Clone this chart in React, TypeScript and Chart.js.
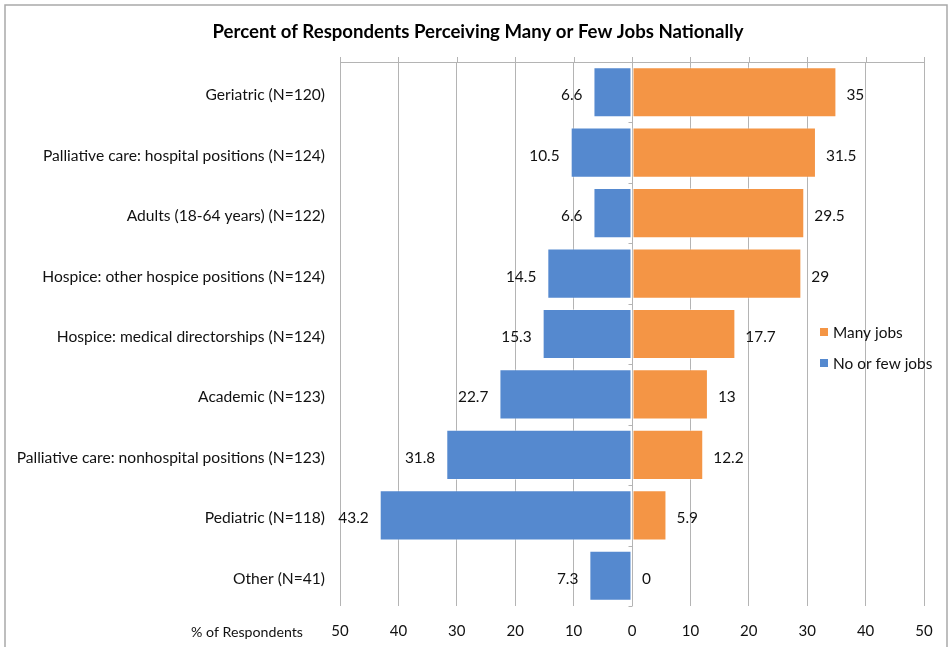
import React, { useEffect, useRef } from "react";
import { Chart, registerables } from "chart.js";

Chart.register(...registerables);

// Job-market perception by career area
const categories = [
  "Geriatric (N=120)",
  "Palliative care: hospital positions (N=124)",
  "Adults (18-64 years) (N=122)",
  "Hospice: other hospice positions (N=124)",
  "Hospice: medical directorships (N=124)",
  "Academic (N=123)",
  "Palliative care: nonhospital positions (N=123)",
  "Pediatric (N=118)",
  "Other (N=41)",
];
const manyJobs = [35, 31.5, 29.5, 29, 17.7, 13, 12.2, 5.9, 0];
const fewJobs = [6.6, 10.5, 6.6, 14.5, 15.3, 22.7, 31.8, 43.2, 7.3];
const axisTicks = [-50, -40, -30, -20, -10, 0, 10, 20, 30, 40, 50];

const TITLE = "Percent of Respondents Perceiving Many or Few Jobs Nationally";
const AXIS_TITLE = "% of Respondents";
const FONT = "Lato, 'Open Sans', sans-serif";
const ORANGE = "#F49545";
const BLUE = "#5589CF";
const GRID = "#b4b4b4";
const TEXT = "#111111";

const decorPlugin = {
  id: "decor",
  beforeDraw(chart: any) {
    const ctx = chart.ctx;
    ctx.save();
    // outer frame
    ctx.strokeStyle = "#a9a9a9";
    ctx.lineWidth = 1.5;
    ctx.beginPath();
    ctx.moveTo(5, 700);
    ctx.lineTo(5, 5);
    ctx.lineTo(947, 5);
    ctx.lineTo(947, 700);
    ctx.stroke();
    // title
    ctx.fillStyle = "#000";
    ctx.font = `bold 18.6px ${FONT}`;
    ctx.textAlign = "center";
    ctx.textBaseline = "middle";
    ctx.fillText(TITLE, 478, 32);
    ctx.restore();
  },
  afterDraw(chart: any) {
    const ctx = chart.ctx;
    const area = chart.chartArea;
    const xs = chart.scales.x;
    ctx.save();
    // top axis line with outward ticks
    ctx.strokeStyle = GRID;
    ctx.lineWidth = 1;
    ctx.beginPath();
    ctx.moveTo(area.left, area.top + 0.5);
    ctx.lineTo(area.right, area.top + 0.5);
    axisTicks.forEach((t) => {
      const px = Math.round(xs.getPixelForValue(t)) + 0.5;
      ctx.moveTo(px, area.top);
      ctx.lineTo(px, area.top - 5);
    });
    // category ticks on the zero line
    const zx = Math.round(xs.getPixelForValue(0)) + 0.5;
    const step = (area.bottom - area.top) / categories.length;
    for (let i = 0; i <= categories.length; i++) {
      const py = Math.round(area.top + i * step) + 0.5;
      ctx.moveTo(zx - 4, py);
      ctx.lineTo(zx, py);
    }
    ctx.stroke();

    // bottom axis caption
    ctx.fillStyle = TEXT;
    ctx.font = `14.2px ${FONT}`;
    ctx.textAlign = "center";
    ctx.textBaseline = "middle";
    ctx.fillText(AXIS_TITLE, 247, 632);

    // legend
    const items = [
      { label: chart.data.datasets[0].label, color: chart.data.datasets[0].backgroundColor },
      { label: chart.data.datasets[1].label, color: chart.data.datasets[1].backgroundColor },
    ];
    ctx.font = `15.4px ${FONT}`;
    ctx.textAlign = "left";
    items.forEach((it, i) => {
      const cy = 332 + i * 31;
      ctx.fillStyle = it.color;
      ctx.fillRect(820, cy - 4, 8, 8);
      ctx.fillStyle = TEXT;
      ctx.fillText(it.label, 833, cy + 1);
    });
    ctx.restore();
  },
  afterDatasetsDraw(chart: any) {
    const ctx = chart.ctx;
    ctx.save();
    ctx.font = `15.4px ${FONT}`;
    ctx.fillStyle = TEXT;
    ctx.textBaseline = "middle";
    chart.data.datasets.forEach((ds: any, di: number) => {
      const meta = chart.getDatasetMeta(di);
      meta.data.forEach((el: any, i: number) => {
        const v = ds.data[i];
        const txt = String(Math.abs(v));
        if (v < 0) {
          ctx.textAlign = "right";
          ctx.fillText(txt, el.x - 11, el.y + 3);
        } else {
          ctx.textAlign = "left";
          ctx.fillText(txt, el.x + 10, el.y + 3);
        }
      });
    });
    ctx.restore();
  },
};

export default function App() {
  const ref = useRef<HTMLCanvasElement | null>(null);

  useEffect(() => {
    document.body.style.margin = "0";
    const canvas = ref.current;
    if (!canvas) return;
    const chart = new Chart(canvas, {
      type: "bar",
      data: {
        labels: categories,
        datasets: [
          {
            label: "Many jobs",
            data: manyJobs,
            backgroundColor: ORANGE,
            borderColor: "rgba(255,255,255,0.45)",
            borderWidth: 1,
            borderSkipped: false,
          },
          {
            label: "No or few jobs",
            data: fewJobs.map((v) => -v),
            backgroundColor: BLUE,
            borderColor: "rgba(255,255,255,0.45)",
            borderWidth: 1,
            borderSkipped: false,
          },
        ],
      },
      options: {
        indexAxis: "y",
        responsive: false,
        animation: false,
        layout: { padding: { left: 0, right: 27, top: 62, bottom: 0 } },
        plugins: {
          legend: { display: false },
          title: { display: false },
          tooltip: { enabled: false },
        },
        datasets: {
          bar: { categoryPercentage: 0.83, barPercentage: 1 },
        },
        scales: {
          x: {
            type: "linear",
            stacked: true,
            min: -50,
            max: 50,
            afterBuildTicks: (scale: any) => {
              scale.ticks = axisTicks.map((v) => ({ value: v }));
            },
            afterFit: (scale: any) => {
              scale.height = 41;
            },
            ticks: {
              callback: (v: any) => String(Math.abs(Number(v))),
              color: TEXT,
              font: { family: FONT, size: 15 },
              padding: 16,
              maxRotation: 0,
            },
            grid: { color: GRID, lineWidth: 1, drawTicks: false },
            border: { display: false },
          },
          y: {
            type: "category",
            stacked: true,
            afterFit: (scale: any) => {
              scale.width = 340;
            },
            ticks: {
              color: TEXT,
              font: { family: FONT, size: 15.6 },
              padding: 15,
              labelOffset: 3,
            },
            grid: { display: false, drawTicks: false },
            border: { display: false },
          },
        },
      },
      plugins: [decorPlugin],
    } as any);
    return () => chart.destroy();
  }, []);

  return (
    <div style={{ position: "absolute", left: 0, top: 0, width: 951, height: 647 }}>
      <canvas ref={ref} width={951} height={647} />
    </div>
  );
}
